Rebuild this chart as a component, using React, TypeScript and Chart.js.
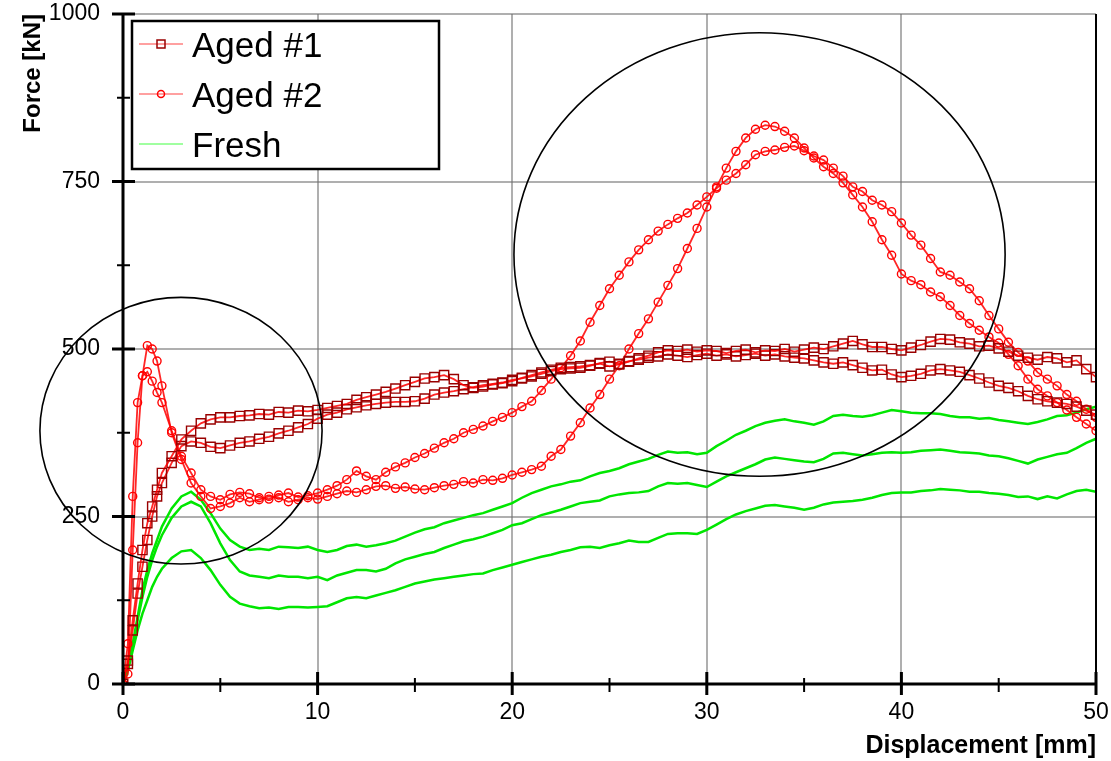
import React, { useEffect, useRef } from "react";
import { Chart, registerables } from "chart.js";

Chart.register(...registerables);

const FONT = "'Liberation Sans', Arial, Helvetica, sans-serif";

// Displacement sample positions [mm]
const HEAD_X = [0, 0.25, 0.5, 0.75, 1, 1.25, 1.5, 1.75];
const TAIL_X = [
  2, 2.5, 3, 3.5, 4, 4.5, 5, 5.5, 6, 6.5,
  7, 7.5, 8, 8.5, 9, 9.5, 10, 10.5, 11, 11.5,
  12, 12.5, 13, 13.5, 14, 14.5, 15, 15.5, 16, 16.5,
  17, 17.5, 18, 18.5, 19, 19.5, 20, 20.5, 21, 21.5,
  22, 22.5, 23, 23.5, 24, 24.5, 25, 25.5, 26, 26.5,
  27, 27.5, 28, 28.5, 29, 29.5, 30, 30.5, 31, 31.5,
  32, 32.5, 33, 33.5, 34, 34.5, 35, 35.5, 36, 36.5,
  37, 37.5, 38, 38.5, 39, 39.5, 40, 40.5, 41, 41.5,
  42, 42.5, 43, 43.5, 44, 44.5, 45, 45.5, 46, 46.5,
  47, 47.5, 48, 48.5, 49, 49.5, 50,
];
const DISP = [...HEAD_X, ...TAIL_X];

// Aged #1 (two specimens) force [kN]
const aged1a = [
  0, 35, 95, 150, 200, 240, 265, 290,
  315, 340, 365, 378, 389, 395, 398, 398, 400, 401,
  403, 402, 406, 405, 408, 407, 409, 412, 415, 418,
  424, 428, 432, 436, 441, 446, 451, 456, 458, 461,
  455, 446, 442, 444, 447, 449, 452, 457, 461, 465,
  469, 472, 473, 474, 476, 478, 474, 477, 481, 486,
  490, 495, 498, 497, 499, 496, 498, 497, 494, 497,
  499, 495, 498, 497, 500, 496, 499, 502, 500, 504,
  508, 512, 507, 503, 503, 500, 498, 502, 506, 511,
  515, 514, 510, 508, 504, 505, 501, 496, 490, 487,
  484, 488, 486, 480, 483, 470, 458,
];
const aged1b = [
  0, 30, 80, 135, 175, 215, 250, 280,
  300, 330, 355, 362, 360, 354, 352, 356, 360, 362,
  366, 369, 374, 378, 383, 388, 396, 402, 405, 410,
  413, 416, 418, 420, 421, 421, 422, 426, 432, 435,
  437, 440, 443, 446, 448, 450, 454, 456, 459, 463,
  467, 470, 471, 472, 475, 479, 481, 478, 482, 484,
  487, 489, 492, 490, 488, 491, 493, 490, 492, 489,
  491, 493, 490, 492, 489, 487, 486, 483, 480, 478,
  480, 476, 472, 468, 469, 462, 458, 460, 463, 468,
  470, 468, 466, 461, 456, 450, 445, 442, 437, 430,
  425, 422, 420, 418, 414, 408, 402,
];

// Aged #2 (two specimens)
const aged2a = [
  0, 15, 200, 360, 460, 505, 500, 482,
  445, 375, 335, 300, 280, 262, 265, 270, 278, 272,
  275, 280, 278, 272, 275, 278, 276, 280, 284, 288,
  286, 290, 295, 296, 292, 294, 291, 290, 293, 296,
  298, 302, 300, 305, 304, 307, 312, 316, 320, 325,
  340, 350, 370, 390, 412, 432, 455, 475, 500, 523,
  545, 570, 595, 620, 650, 680, 712, 742, 770, 795,
  815, 828, 834, 832, 825, 815, 800, 785, 772, 762,
  748, 730, 712, 690, 663, 640, 612, 602, 596, 585,
  578, 565, 550, 538, 528, 518, 509, 492, 475, 455,
  440, 430, 420, 409, 398, 388, 378,
];
const aged2b = [
  0, 60, 280, 420, 460, 466, 452, 435,
  420, 378, 340, 315, 290, 280, 275, 283, 286, 284,
  278, 276, 282, 285, 279, 281, 285, 290, 296, 305,
  318, 310, 305, 316, 324, 330, 338, 344, 352, 360,
  366, 375, 380, 385, 392, 398, 405, 414, 422, 438,
  455, 472, 490, 512, 540, 565, 590, 610, 630, 648,
  663, 676, 686, 695, 703, 715, 727, 740, 752, 762,
  775, 790, 795, 797, 801, 803, 796, 788, 782, 770,
  758, 742, 735, 722, 715, 705, 688, 670, 655, 635,
  615, 610, 600, 590, 572, 550, 530, 510, 495, 482,
  465, 455, 445, 432, 422, 410, 398,
];

// Fresh (three specimens)
const fresh1 = [
  0, 25, 60, 100, 140, 170, 195, 215,
  235, 262, 280, 287, 275, 255, 232, 215, 205, 200,
  202, 200, 205, 204, 203, 205, 200, 197, 200, 206,
  208, 205, 207, 210, 214, 220, 226, 231, 234, 240,
  244, 248, 252, 255, 260, 265, 270, 278, 285, 290,
  295, 298, 302, 304, 310, 315, 318, 322, 328, 332,
  336, 342, 347, 345, 346, 343, 345, 355, 363, 372,
  378, 385, 390, 393, 395, 392, 390, 387, 392, 400,
  402, 400, 399, 401, 405, 409, 407, 405, 404, 404,
  403, 400, 398, 398, 396, 397, 394, 392, 390, 388,
  391, 395, 400, 401, 405, 410, 414,
];
const fresh2 = [
  0, 22, 55, 95, 130, 160, 185, 205,
  222, 248, 265, 272, 265, 240, 210, 185, 168, 162,
  160, 158, 162, 160, 160, 158, 160, 155, 162, 166,
  170, 170, 168, 172, 180, 186, 190, 194, 197, 203,
  208, 213, 216, 220, 225, 230, 237, 240, 246, 252,
  256, 260, 265, 270, 272, 274, 280, 283, 285, 286,
  288, 295, 300, 299, 300, 297, 294, 302, 310, 316,
  322, 328, 335, 338, 336, 334, 332, 331, 336, 344,
  345, 343, 341, 343, 345, 346, 345, 346, 348, 349,
  350, 348, 346, 345, 344, 341, 340, 337, 333, 329,
  335, 339, 343, 345, 352, 360, 366,
];
const fresh3 = [
  0, 20, 50, 80, 105, 125, 145, 160,
  172, 188, 198, 200, 188, 170, 148, 130, 120, 116,
  113, 114, 112, 115, 115, 114, 115, 116, 122, 128,
  130, 128, 132, 136, 140, 145, 150, 153, 156, 158,
  160, 162, 164, 165, 170, 174, 178, 182, 186, 190,
  193, 197, 200, 204, 205, 203, 207, 210, 214, 212,
  212, 218, 224, 225, 225, 224, 230, 238, 246, 253,
  258, 262, 266, 267, 265, 263, 260, 263, 268, 271,
  272, 273, 275, 278, 282, 285, 286, 286, 288, 289,
  291, 290, 289, 287, 287, 285, 284, 282, 279, 280,
  276, 280, 277, 283, 288, 290, 287,
];

const LEGEND_LABELS = ["Aged #1", "Aged #2", "Fresh"];
const X_TITLE = "Displacement [mm]";
const Y_TITLE = "Force [kN]";
const X_MAJOR = [0, 10, 20, 30, 40, 50];
const X_MINOR = [5, 15, 25, 35, 45];
const Y_MAJOR = [0, 250, 500, 750, 1000];
const Y_MINOR = [125, 375, 625, 875];
// highlighted regions (data units): centre x, centre y, radius x, radius y
const ELLIPSES = [
  { cx: 2.98, cy: 378, rx: 7.25, ry: 199 },
  { cx: 32.71, cy: 641, rx: 12.62, ry: 331 },
];

const AGED1_POINT = "#990000";
const AGED_LINE = "rgba(255,0,0,0.85)";
const AGED2_POINT = "#ff0000";
const FRESH_LINE = "#00e600";

const toXY = (ys: number[]) => DISP.map((x, i) => ({ x, y: ys[i] }));

const decorPlugin = {
  id: "decor",
  afterDatasetsDraw(chart: any) {
    const { ctx, chartArea: a, scales } = chart;
    const xs = scales.x;
    const ys = scales.y;
    ctx.save();
    ctx.strokeStyle = "#000";
    // right border
    ctx.lineWidth = 2;
    ctx.beginPath();
    ctx.moveTo(a.right, a.top);
    ctx.lineTo(a.right, a.bottom);
    ctx.stroke();
    // axes
    ctx.lineWidth = 3;
    ctx.beginPath();
    ctx.moveTo(a.left, a.top);
    ctx.lineTo(a.left, a.bottom);
    ctx.lineTo(a.right, a.bottom);
    ctx.stroke();
    // y ticks
    Y_MAJOR.forEach((v) => {
      const py = ys.getPixelForValue(v);
      ctx.lineWidth = 3;
      ctx.beginPath();
      ctx.moveTo(a.left - 11, py);
      ctx.lineTo(a.left + 12, py);
      ctx.stroke();
    });
    Y_MINOR.forEach((v) => {
      const py = ys.getPixelForValue(v);
      ctx.lineWidth = 2;
      ctx.beginPath();
      ctx.moveTo(a.left - 6, py);
      ctx.lineTo(a.left + 7, py);
      ctx.stroke();
    });
    X_MAJOR.forEach((v) => {
      const px = xs.getPixelForValue(v);
      ctx.lineWidth = 3;
      ctx.beginPath();
      ctx.moveTo(px, a.bottom - 12);
      ctx.lineTo(px, a.bottom + 11);
      ctx.stroke();
    });
    X_MINOR.forEach((v) => {
      const px = xs.getPixelForValue(v);
      ctx.lineWidth = 2;
      ctx.beginPath();
      ctx.moveTo(px, a.bottom - 6);
      ctx.lineTo(px, a.bottom + 8);
      ctx.stroke();
    });
    // ellipses
    ctx.lineWidth = 1.6;
    ELLIPSES.forEach((e) => {
      const cx = xs.getPixelForValue(e.cx);
      const cy = ys.getPixelForValue(e.cy);
      const rx = Math.abs(xs.getPixelForValue(e.cx + e.rx) - cx);
      const ry = Math.abs(ys.getPixelForValue(e.cy + e.ry) - cy);
      ctx.beginPath();
      ctx.ellipse(cx, cy, rx, ry, 0, 0, Math.PI * 2);
      ctx.stroke();
    });
    // legend
    const lx = a.left + 9;
    const ly = a.top + 7;
    const lw = 307;
    const lh = 148;
    ctx.fillStyle = "#fff";
    ctx.fillRect(lx, ly, lw, lh);
    ctx.lineWidth = 2.5;
    ctx.strokeStyle = "#000";
    ctx.strokeRect(lx, ly, lw, lh);
    const rows = [ly + 23, ly + 73, ly + 123];
    const lineCols = ["#ff8080", "#ff8080", "#80ff80"];
    rows.forEach((ry, i) => {
      ctx.strokeStyle = lineCols[i];
      ctx.lineWidth = 1.5;
      ctx.beginPath();
      ctx.moveTo(lx + 7, ry);
      ctx.lineTo(lx + 51, ry);
      ctx.stroke();
      const mx = lx + 29;
      if (i === 0) {
        ctx.strokeStyle = AGED1_POINT;
        ctx.lineWidth = 1.5;
        ctx.strokeRect(mx - 4, ry - 4, 8, 8);
      } else if (i === 1) {
        ctx.strokeStyle = AGED2_POINT;
        ctx.lineWidth = 1.5;
        ctx.beginPath();
        ctx.arc(mx, ry, 3.5, 0, Math.PI * 2);
        ctx.stroke();
      }
      ctx.fillStyle = "#000";
      ctx.font = `35px ${FONT}`;
      ctx.textAlign = "left";
      ctx.textBaseline = "alphabetic";
      ctx.fillText(LEGEND_LABELS[i], lx + 60, ry + 13);
    });
    ctx.restore();
  },
};

export default function App() {
  const ref = useRef<HTMLCanvasElement | null>(null);
  useEffect(() => {
    if (!ref.current) return;
    const agedStyle = (ys: number[], label: string, square: boolean) => ({
      label,
      data: toXY(ys),
      borderColor: AGED_LINE,
      borderWidth: 1.8,
      pointStyle: square ? "rect" : "circle",
      pointRadius: square ? 6.5 : 4,
      pointBorderWidth: 1.4,
      pointBorderColor: square ? AGED1_POINT : AGED2_POINT,
      pointBackgroundColor: "rgba(0,0,0,0)",
      tension: 0,
    });
    const freshStyle = (ys: number[]) => ({
      label: "Fresh",
      data: toXY(ys),
      borderColor: FRESH_LINE,
      borderWidth: 2.5,
      pointRadius: 0,
      tension: 0,
    });
    const gridColor = (c: any) => {
      const v = c.tick && c.tick.value;
      return v === 0 || v === 50 ? "rgba(0,0,0,0)" : "rgba(110,110,110,0.55)";
    };
    const chart = new Chart(ref.current, {
      type: "line",
      data: {
        datasets: [
          agedStyle(aged1a, "Aged #1", true),
          agedStyle(aged1b, "Aged #1", true),
          agedStyle(aged2a, "Aged #2", false),
          agedStyle(aged2b, "Aged #2", false),
          freshStyle(fresh1),
          freshStyle(fresh2),
          freshStyle(fresh3),
        ] as any,
      },
      options: {
        animation: false,
        responsive: false,
        devicePixelRatio: 1,
        layout: { padding: { top: 14, right: 15, left: 0, bottom: 0 } },
        plugins: { legend: { display: false }, tooltip: { enabled: false } },
        scales: {
          x: {
            type: "linear",
            min: 0,
            max: 50,
            afterFit: (s: any) => {
              s.height = 77;
              s.paddingLeft = 0;
              s.paddingRight = 0;
              s.paddingTop = 0;
              s.paddingBottom = 0;
            },
            ticks: {
              stepSize: 10,
              padding: 15,
              color: "#000",
              font: { family: FONT, size: 23 },
              maxRotation: 0,
              callback: (v: any) => String(v),
            },
            grid: { color: gridColor, lineWidth: 2, drawTicks: false },
            border: { display: false },
            title: {
              display: true,
              text: X_TITLE,
              align: "end",
              color: "#000",
              font: { family: FONT, size: 25, weight: "bold" },
              padding: { top: 0, bottom: 0 },
            },
          },
          y: {
            type: "linear",
            min: 0,
            max: 1000,
            afterFit: (s: any) => {
              s.width = 123;
              s.paddingLeft = 0;
              s.paddingRight = 0;
              s.paddingTop = 0;
              s.paddingBottom = 0;
            },
            ticks: {
              stepSize: 250,
              padding: 23,
              color: "#000",
              font: { family: FONT, size: 23 },
              callback: (v: any) => String(v),
            },
            grid: {
              color: (c: any) =>
                c.tick && c.tick.value === 0 ? "rgba(0,0,0,0)" : "rgba(110,110,110,0.55)",
              lineWidth: 2,
              drawTicks: false,
            },
            border: { display: false },
            title: {
              display: true,
              text: Y_TITLE,
              align: "end",
              color: "#000",
              font: { family: FONT, size: 24, weight: "bold" },
              padding: { top: 19, bottom: 0 },
            },
          },
        },
      } as any,
      plugins: [decorPlugin],
    });
    return () => chart.destroy();
  }, []);
  return (
    <div style={{ position: "absolute", left: 0, top: 0, width: 1111, height: 761, background: "#fff" }}>
      <canvas ref={ref} width={1111} height={761} style={{ display: "block" }} />
    </div>
  );
}
